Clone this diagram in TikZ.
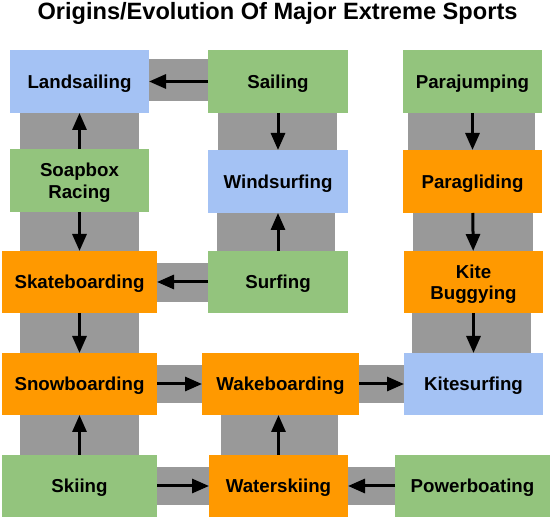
\documentclass[tikz,border=0pt]{standalone}
\usepackage{fontspec}
\setmainfont{Liberation Sans}
\usetikzlibrary{arrows.meta,calc}
\pgfdeclarelayer{bg}
\pgfsetlayers{bg,main}
\definecolor{cgreen}{HTML}{93C47D}
\definecolor{cblue}{HTML}{A4C2F4}
\definecolor{corange}{HTML}{FF9900}
\definecolor{cgray}{HTML}{999999}
\tikzset{
  box/.style={minimum width=139pt, minimum height=63pt, inner sep=0pt, outer sep=0pt,
    align=center, text depth=0pt, font=\fontsize{18.7}{21.5}\selectfont\bfseries},
  gbox/.style={box, fill=cgreen},
  bbox/.style={box, fill=cblue},
  obox/.style={box, fill=corange},
  band/.style={fill=cgray},
  arr/.style={line width=3pt, -{Triangle[length=17pt,width=14pt]}},
}
\begin{document}
\begin{tikzpicture}[x=1pt,y=-1pt]
\useasboundingbox (0,0) rectangle (552,518);
\node (title) at (277.5,13) {\fontsize{23.6}{28}\selectfont\bfseries Origins/Evolution Of Major Extreme Sports};
% row 1
\node[bbox] (land) at (79.5,81.5) {Landsailing};
\node[gbox, minimum width=140pt] (sail) at (278,81.5) {Sailing};
\node[gbox] (para) at (472.5,81.5) {Parajumping};
% row 2
\node[gbox] (soap) at (79.5,180.5) {Soapbox\\Racing};
\node[bbox, minimum width=140pt] (wind) at (278,181.5) {Windsurfing};
\node[obox] (glide) at (472.5,181.5) {Paragliding};
% row 3
\node[obox, minimum width=155pt, minimum height=62pt] (skate) at (79.5,282) {Skateboarding};
\node[gbox, minimum width=140pt, minimum height=62pt] (surf) at (278,282) {Surfing};
\node[obox, minimum height=62pt] (buggy) at (473.5,282) {Kite\\Buggying};
% row 4
\node[obox, minimum width=155pt, minimum height=62pt] (snow) at (79.5,384) {Snowboarding};
\node[obox, minimum width=157pt, minimum height=62pt] (wake) at (280.5,384) {Wakeboarding};
\node[bbox, minimum height=62pt] (kitesurf) at (473.5,384) {Kitesurfing};
% row 5
\node[gbox, minimum width=155pt, minimum height=62pt] (ski) at (79.5,486) {Skiing};
\node[obox, minimum height=62pt] (water) at (278.5,486) {Waterskiing};
\node[gbox, minimum width=155pt, minimum height=62pt] (power) at (472.5,486) {Powerboating};
% bands
\begin{pgfonlayer}{bg}
  % horizontal
  \fill[band] ($(land.east)+(0,-22)$) rectangle ($(sail.west)+(0,20)$);
  \fill[band] ($(skate.east)+(0,-19)$) rectangle ($(surf.west)+(0,20)$);
  \fill[band] ($(snow.east)+(0,-19)$) rectangle ($(wake.west)+(0,19)$);
  \fill[band] ($(wake.east)+(0,-19)$) rectangle ($(kitesurf.west)+(0,19)$);
  \fill[band] ($(ski.east)+(0,-19)$) rectangle ($(water.west)+(0,19)$);
  \fill[band] ($(water.east)+(0,-19)$) rectangle ($(power.west)+(0,19)$);
  % vertical
  \fill[band] ($(land.south)+(-59.5,0)$) rectangle ($(soap.north)+(59.5,0)$);
  \fill[band] ($(soap.south)+(-59.5,0)$) rectangle ($(skate.north)+(59.5,0)$);
  \fill[band] ($(skate.south)+(-59.5,0)$) rectangle ($(snow.north)+(59.5,0)$);
  \fill[band] ($(snow.south)+(-59.5,0)$) rectangle ($(ski.north)+(59.5,0)$);
  \fill[band] ($(sail.south)+(-60,0)$) rectangle ($(wind.north)+(59,0)$);
  \fill[band] ($(wind.south)+(-61,0)$) rectangle ($(surf.north)+(57,0)$);
  \fill[band] ($(wake.south)+(-59.5,0)$) rectangle ($(water.north)+(59.5,0)$);
  \fill[band] ($(para.south)+(-64.5,0)$) rectangle ($(glide.north)+(62.5,0)$);
  \fill[band] ($(glide.south)+(-59.5,0)$) rectangle ($(buggy.north)+(59.5,0)$);
  \fill[band] ($(buggy.south)+(-61.5,0)$) rectangle ($(kitesurf.north)+(57.5,0)$);
\end{pgfonlayer}
% arrows
\draw[arr] (sail) -- (land);
\draw[arr] (soap) -- (land);
\draw[arr] (soap) -- (skate);
\draw[arr] (sail) -- (wind);
\draw[arr] (surf) -- (wind);
\draw[arr] (surf) -- (skate);
\draw[arr] (skate) -- (snow);
\draw[arr] (ski) -- (snow);
\draw[arr] (snow) -- (wake);
\draw[arr] (wake) -- (kitesurf);
\draw[arr] (ski) -- (water);
\draw[arr] (power) -- (water);
\draw[arr] (water.north) -- (water.north |- wake.south);
\draw[arr] (para) -- (glide);
\draw[arr] (glide) -- (buggy);
\draw[arr] (buggy) -- (kitesurf);
\end{tikzpicture}
\end{document}
